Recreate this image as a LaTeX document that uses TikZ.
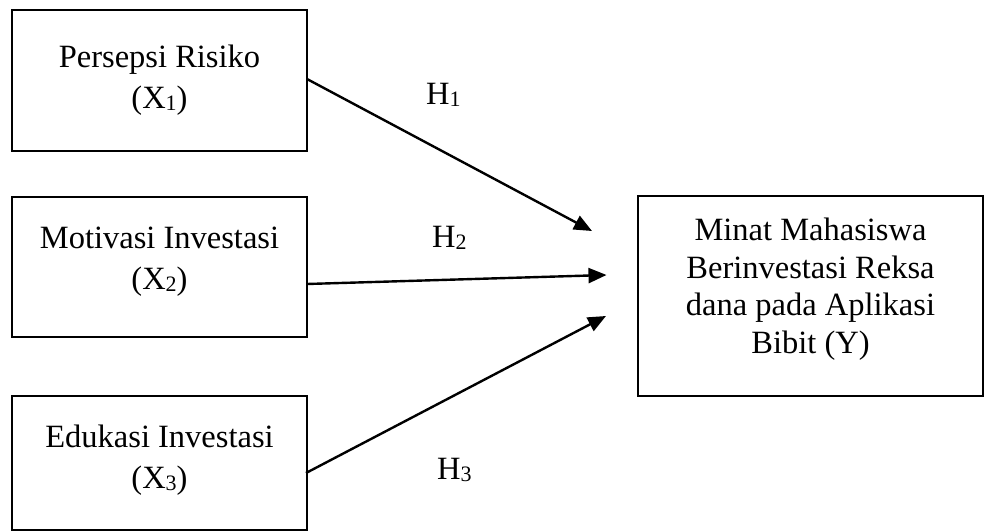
\documentclass[tikz,border=0pt]{standalone}
\usepackage{fontspec}
\setmainfont{Liberation Serif}
\usetikzlibrary{arrows.meta}
\newcommand{\subd}[1]{\raisebox{-2pt}{\fontsize{22}{22}\selectfont #1}}
\tikzset{
  box/.style={draw, line width=2.6pt, rectangle, inner sep=0pt},
  boxtext/.style={anchor=north, align=center, inner sep=0pt,
    font=\fontsize{32.5}{41}\selectfont},
  ytext/.style={anchor=north, align=center, inner sep=0pt,
    font=\fontsize{32.5}{37.5}\selectfont},
  hlabel/.style={anchor=base west, inner sep=0pt, font=\fontsize{32.5}{37}\selectfont},
  conn/.style={line width=2.4pt, -{Triangle[length=18pt,width=15pt]}}
}
\begin{document}
\begin{tikzpicture}[x=1pt,y=-1pt]
\useasboundingbox (0,0) rectangle (985,532);
% boxes
\node[box, minimum width=295pt, minimum height=141pt] (b1) at (159.5,80.5) {};
\node[box, minimum width=295pt, minimum height=140pt] (b2) at (159.5,267) {};
\node[box, minimum width=295pt, minimum height=134pt] (b3) at (159.5,463) {};
\node[box, minimum width=345pt, minimum height=200pt] (by) at (810.5,296) {};
% texts
\node[boxtext] (t1) at (159.5,45) {Persepsi Risiko\\(X\subd{1})};
\node[boxtext] (t2) at (159.5,227) {Motivasi Investasi\\(X\subd{2})};
\node[boxtext] (t3) at (159.5,425) {Edukasi Investasi\\(X\subd{3})};
\node[ytext] (ty) at (810.5,218) {Minat Mahasiswa\\Berinvestasi Reksa\\dana pada Aplikasi\\Bibit (Y)};
% connector ends
\coordinate (s1) at (307,79);
\coordinate (s2) at (307,284);
\coordinate (s3) at (306,473);
\coordinate (e1) at (592,231);
\coordinate (e2) at (606.5,275);
\coordinate (e3) at (606,316);
\draw[conn] (s1) -- (e1);
\draw[conn] (s2) -- (e2);
\draw[conn] (s3) -- (e3);
% labels
\node[hlabel] (h1) at (426,105) {H\subd{1}};
\node[hlabel] (h2) at (432,247) {H\subd{2}};
\node[hlabel] (h3) at (437,479) {H\subd{3}};
\end{tikzpicture}
\end{document}
